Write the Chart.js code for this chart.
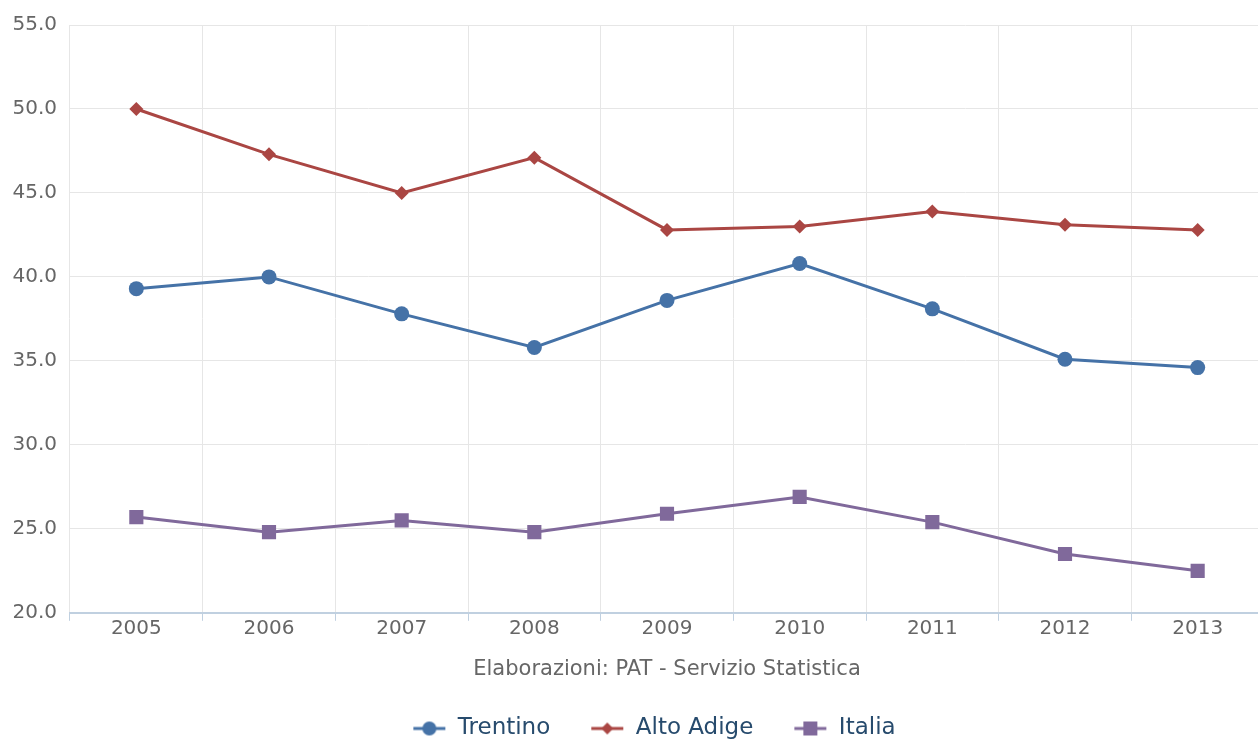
<!DOCTYPE html>
<html>
<head>
<meta charset="utf-8">
<script src="https://cdn.jsdelivr.net/npm/chart.js@4"></script>
<style>
  html, body { margin: 0; padding: 0; background: #fff; overflow: hidden; }
  #wrap { width: 1264px; height: 740px; }
</style>
</head>
<body>
<div id="wrap"><canvas id="lineChart"></canvas></div>
<script>
const years = ['2005', '2006', '2007', '2008', '2009', '2010', '2011', '2012', '2013'];
const trentino = [39.3, 40.0, 37.8, 35.8, 38.6, 40.8, 38.1, 35.1, 34.6];
const altoAdige = [50.0, 47.3, 45.0, 47.1, 42.8, 43.0, 43.9, 43.1, 42.8];
const italia = [25.7, 24.8, 25.5, 24.8, 25.9, 26.9, 25.4, 23.5, 22.5];
const yTicks = [20, 25, 30, 35, 40, 45, 50, 55];

const FONT = '"DejaVu Sans", Verdana, sans-serif';

// little line + marker icon for the legend (10px blank on the left for item spacing)
const legendIcon = (color, style) => {
    const c = document.createElement('canvas');
    c.width = 44; c.height = 18;
    const g = c.getContext('2d');
    g.strokeStyle = color;
    g.lineWidth = 3;
    g.beginPath(); g.moveTo(11, 9); g.lineTo(43, 9); g.stroke();
    g.fillStyle = color;
    g.beginPath();
    if (style === 'circle') {
        g.arc(27, 9, 7, 0, Math.PI * 2);
    } else if (style === 'rectRot') {
        g.moveTo(27, 3); g.lineTo(33, 9); g.lineTo(27, 15); g.lineTo(21, 9); g.closePath();
    } else {
        g.rect(20, 2, 14, 14);
    }
    g.fill();
    return c;
};

const series = [
    { label: 'Trentino', data: trentino, color: '#4572A7', style: 'circle', r: 7.5 },
    { label: 'Alto Adige', data: altoAdige, color: '#AA4643', style: 'rectRot', r: 7 },
    { label: 'Italia', data: italia, color: '#80699B', style: 'rect', r: 10 }
];

const datasets = series.map(s => ({
    label: s.label,
    data: s.data,
    borderColor: s.color,
    backgroundColor: s.color,
    pointBackgroundColor: s.color,
    pointBorderColor: s.color,
    pointBorderWidth: 0,
    pointStyle: s.style,
    pointRadius: s.r,
    pointHoverRadius: s.r,
    borderWidth: 3,
    tension: 0,
    icon: legendIcon(s.color, s.style)
}));

// the legend in the source sits a bit right of the canvas centre
const shiftLegend = {
    id: 'shiftLegend',
    afterLayout: chart => {
        if (chart.legend) { chart.legend.left += 17; chart.legend.right += 17; }
    }
};

const ctx = document.getElementById('lineChart').getContext('2d');

new Chart(ctx, {
    type: 'line',
    data: { labels: years, datasets: datasets },
    options: {
        responsive: true,
        maintainAspectRatio: false,
        animation: false,
        layout: { autoPadding: false, padding: { top: 24, right: 0, left: 0, bottom: -10 } },
        plugins: {
            title: { display: false },
            tooltip: { enabled: false },
            legend: {
                position: 'bottom',
                labels: {
                    usePointStyle: true,
                    pointStyleWidth: 44,
                    padding: 30,
                    color: '#274b6d',
                    font: { family: FONT, size: 23 },
                    generateLabels: chart => chart.data.datasets.map((ds, i) => ({
                        text: ds.label,
                        pointStyle: ds.icon,
                        fillStyle: ds.borderColor,
                        strokeStyle: ds.borderColor,
                        lineWidth: 0,
                        fontColor: '#274b6d',
                        hidden: false,
                        datasetIndex: i
                    }))
                }
            }
        },
        scales: {
            x: {
                offset: true,
                grid: {
                    offset: true,
                    color: '#e6e6e6',
                    tickColor: '#C0D0E0',
                    tickLength: 8,
                    drawTicks: true
                },
                border: { color: '#C0D0E0', width: 2 },
                ticks: {
                    color: '#666',
                    padding: -4,
                    maxRotation: 0,
                    font: { family: FONT, size: 20 }
                },
                title: {
                    display: true,
                    text: 'Elaborazioni: PAT - Servizio Statistica',
                    color: '#666',
                    font: { family: FONT, size: 21 },
                    padding: { top: 20, bottom: 5 }
                }
            },
            y: {
                min: 20,
                max: 55,
                afterBuildTicks: scale => { scale.ticks = yTicks.map(v => ({ value: v })); },
                afterFit: scale => { scale.width = 70; },
                grid: { color: '#e6e6e6', drawTicks: false },
                border: { display: false },
                ticks: {
                    color: '#666',
                    padding: 13,
                    font: { family: FONT, size: 20 },
                    callback: v => v.toFixed(1)
                }
            }
        }
    },
    plugins: [shiftLegend]
});
</script>
</body>
</html>
